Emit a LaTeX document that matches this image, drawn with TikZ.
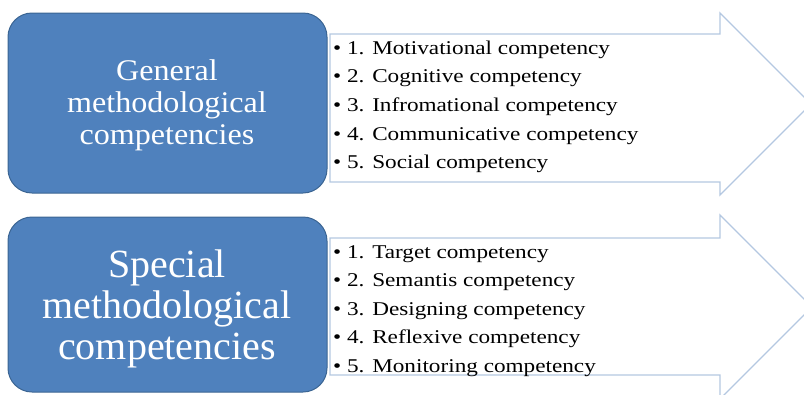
\documentclass[tikz,border=0pt]{standalone}
\usepackage{fontspec}
\setmainfont{Liberation Serif}
\definecolor{boxblue}{HTML}{4F81BD}
\definecolor{boxline}{HTML}{3B6593}
\definecolor{arrowline}{HTML}{B4C8E1}
\newcommand{\wide}[2]{\scalebox{#1}[1]{#2}}
\begin{document}
\begin{tikzpicture}[x=1pt,y=-1pt,join=round]
    \tikzstyle{groupbox} = [fill=boxblue,draw=boxline,line width=1pt,rounded corners=24pt]
    \tikzstyle{listarrow} = [fill=white,draw=arrowline,line width=1.3pt,join=miter]
    \tikzstyle{title} = [text=white,anchor=base,inner sep=0pt]
    \tikzstyle{item} = [anchor=base west,inner sep=0pt,font=\fontsize{19.5}{24}\selectfont]

    \useasboundingbox (0,0) rectangle (804,394);
    \clip (0,0) rectangle (804,394);

    % General competencies

    \draw[listarrow] (330,34)--(720,34)--(720,13)--(811,104)--(720,195)
                     --(720,182)--(330,182)--cycle;
    \draw[groupbox] (8,13) rectangle (327,193);
    \path[font=\fontsize{30}{32}\selectfont]
            (167,80) node[title] (gen1) {\wide{1.07}{General}}
            (167,112) node[title] (gen2) {\wide{1.07}{methodological}}
            (167,144) node[title] (gen3) {\wide{1.07}{competencies}};
    \foreach \t [count=\i] in {Motivational competency,Cognitive competency,
                               Infromational competency,Communicative competency,
                               Social competency}
        \node[item] (genitem\i) at (333,{54+28.7*(\i-1)}) {\wide{1.19}{•\ \i. \t}};

    % Special competencies

    \draw[listarrow] (330,238)--(720,238)--(720,215)--(812,307)--(720,399)
                     --(720,375)--(330,375)--cycle;
    \draw[groupbox] (8,217) rectangle (327,392);
    \path[font=\fontsize{40}{42}\selectfont]
            (167,277) node[title] (spec1) {Special}
            (167,318) node[title] (spec2) {methodological}
            (167,359) node[title] (spec3) {competencies};
    \foreach \t [count=\i] in {Target competency,Semantis competency,
                               Designing competency,Reflexive competency,
                               Monitoring competency}
        \node[item] (specitem\i) at (333,{258+28.5*(\i-1)}) {\wide{1.19}{•\ \i. \t}};
\end{tikzpicture}
\end{document}
